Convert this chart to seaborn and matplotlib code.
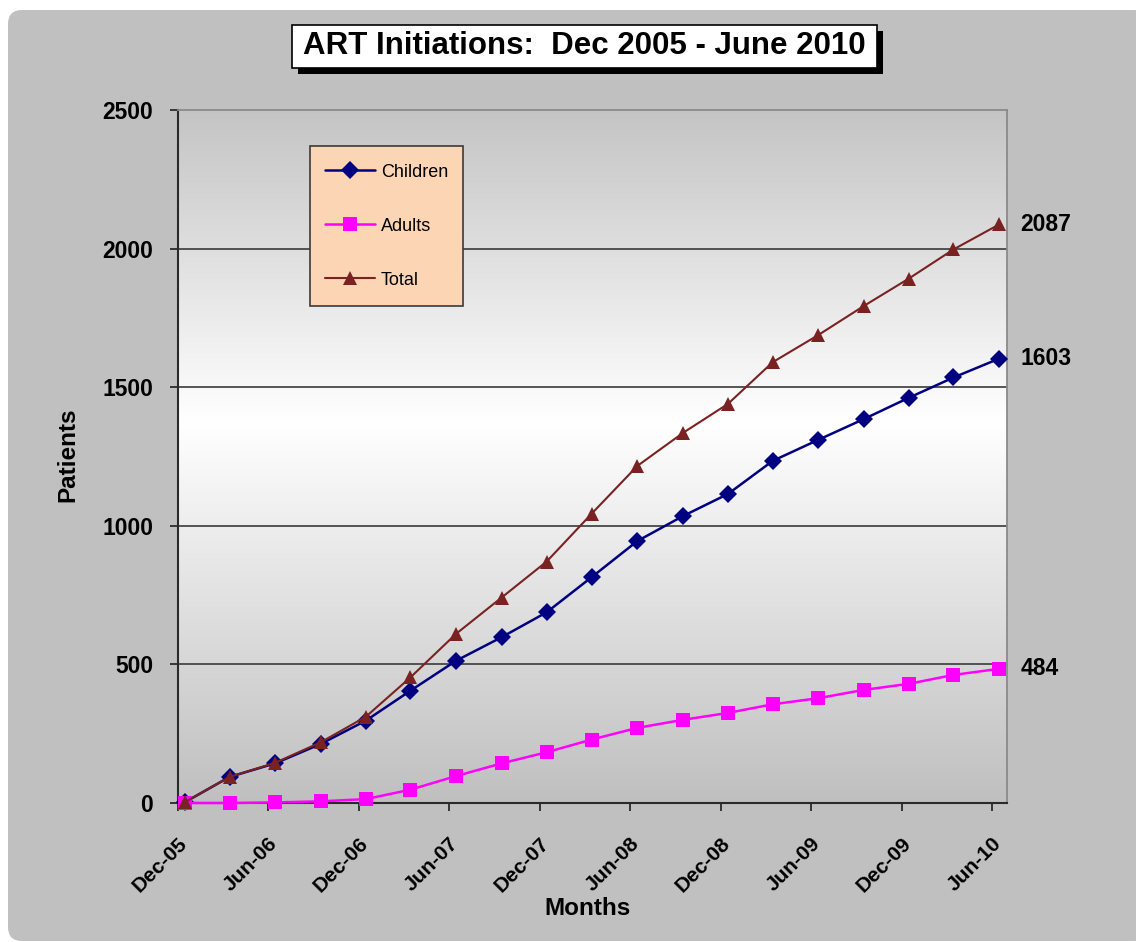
import numpy as np
import pandas as pd
import matplotlib
matplotlib.use('Agg')
import matplotlib.pyplot as plt
import matplotlib.dates as mdates
import matplotlib.transforms as mtransforms
from matplotlib.patches import FancyBboxPatch, Rectangle
import seaborn as sns

# ---------------- data ----------------
months = ['2005-12', '2006-03', '2006-06', '2006-09', '2006-12', '2007-03', '2007-06',
          '2007-09', '2007-12', '2008-03', '2008-06', '2008-09', '2008-12', '2009-03',
          '2009-06', '2009-09', '2009-12', '2010-03', '2010-06']
children = [3, 94, 143, 213, 297, 405, 513, 598, 688, 815, 945, 1035, 1115, 1234,
            1310, 1385, 1462, 1535, 1603]
adults = [0, 0, 2, 6, 14, 48, 97, 143, 183, 229, 271, 300, 325, 356, 378, 408, 430,
          462, 484]
total = [3, 94, 145, 219, 311, 453, 610, 741, 871, 1044, 1216, 1335, 1440, 1590,
         1688, 1793, 1892, 1997, 2087]
series_names = ['Children', 'Adults', 'Total']
y_ticks = [0, 500, 1000, 1500, 2000, 2500]
title = 'ART Initiations:  Dec 2005 - June 2010'
x_label = 'Months'
y_label = 'Patients'

# ---------------- style ----------------
sns.set_theme(style='white')
plt.rcParams['font.family'] = ['Liberation Sans', 'DejaVu Sans']
for k in ['text.color', 'axes.labelcolor', 'xtick.color', 'ytick.color']:
    plt.rcParams[k] = 'black'

W, H = 1136, 942
fig = plt.figure(figsize=(W / 100, H / 100), dpi=100, facecolor='white')
inch = fig.dpi_scale_trans

# grey rounded panel
panel = FancyBboxPatch((0.08, 0.01), 11.40, 9.31,
                       boxstyle='round,pad=0,rounding_size=0.14',
                       transform=inch, facecolor='#c0c0c0', edgecolor='none', zorder=0)
fig.patches.append(panel)

# title box with shadow
fig.patches.append(Rectangle((2.98, (H - 74) / 100), 5.85, 0.43, transform=inch,
                             facecolor='black', edgecolor='none', zorder=1))
fig.patches.append(Rectangle((2.92, (H - 68) / 100), 5.85, 0.43, transform=inch,
                             facecolor='white', edgecolor='black', linewidth=1.2, zorder=2))
fig.text(2.92 + 5.85 / 2, (H - 46) / 100, title, transform=inch, ha='center', va='center',
         fontsize=22.5, fontweight='bold', color='black', zorder=3)

rect = [178 / W, (H - 803) / H, 829 / W, 693 / H]

# gradient background of plot area
bg = fig.add_axes(rect, zorder=0.5)
t = np.linspace(0, 1, 512)
g = np.interp(t, [0.0, 0.55, 1.0], [0.75, 1.0, 0.77])
img = np.repeat(g[:, None, None], 3, axis=2)
bg.imshow(img, origin='lower', aspect='auto', extent=[0, 1, 0, 1])
bg.set_axis_off()

ax = fig.add_axes(rect, zorder=1)
ax.set_facecolor('none')

dates = pd.to_datetime(months) + pd.Timedelta(days=14)
df = pd.DataFrame({'date': dates, 'Children': children, 'Adults': adults, 'Total': total})

styles = {
    'Children': dict(color='#000080', marker='D', markersize=9, linewidth=1.8),
    'Adults': dict(color='#FF00FF', marker='s', markersize=10, linewidth=1.8),
    'Total': dict(color='#7A2222', marker='^', markersize=10.5, linewidth=1.5),
}
for name in series_names:
    sns.lineplot(data=df, x='date', y=name, ax=ax, label=name, markeredgewidth=0,
                 clip_on=False, zorder=5, **styles[name])

# end value labels
for name in series_names:
    v = df[name].iloc[-1]
    ax.annotate(str(v), xy=(df['date'].iloc[-1], v), xytext=(15.5, 0),
                textcoords='offset points', ha='left', va='center',
                fontsize=16.5, fontweight='bold', color='black')

# axes
ax.set_ylim(y_ticks[0], y_ticks[-1])
ax.set_yticks(y_ticks)
ax.set_xlim(pd.Timestamp('2005-12-01'), pd.Timestamp('2010-07-01'))
xt = pd.date_range('2005-12-01', '2010-06-01', freq='6MS')
ax.set_xticks(xt)
ax.xaxis.set_major_formatter(mdates.DateFormatter('%b-%y'))

for v in y_ticks[1:-1]:
    ax.axhline(v, color='#3a3a3a', linewidth=1.2, zorder=2)

for s in ['left', 'bottom']:
    ax.spines[s].set_color('#2a2a2a')
    ax.spines[s].set_linewidth(1.5)
for s in ['top', 'right']:
    ax.spines[s].set_color('#8a8a8a')
    ax.spines[s].set_linewidth(1.3)

ax.tick_params(axis='both', which='major', direction='out', bottom=True, left=True,
               length=6, width=1.3, color='#2a2a2a')
ax.tick_params(axis='y', pad=12, labelsize=16.5)
ax.tick_params(axis='x', pad=21, labelsize=15)
for lab in ax.get_yticklabels():
    lab.set_fontweight('bold')
shift = mtransforms.ScaledTranslation(6 / 100, 0, fig.dpi_scale_trans)
for lab in ax.get_xticklabels():
    lab.set_fontweight('bold')
    lab.set_rotation(45)
    lab.set_ha('right')
    lab.set_va('center')
    lab.set_rotation_mode('anchor')
    lab.set_transform(lab.get_transform() + shift)

ax.set_xlabel(x_label, fontsize=17.5, fontweight='bold')
ax.set_ylabel(y_label, fontsize=17.5, fontweight='bold')
ax.xaxis.label.set_va('center')
ax.yaxis.label.set_va('center')
ax.xaxis.set_label_coords(0.494, -0.152)
ax.yaxis.set_label_coords(-0.133, 0.502)

# legend
lx0, ly0, lw, lh = 0.159, 0.717, 0.185, 0.231
ax.add_patch(Rectangle((lx0, ly0), lw, lh, transform=ax.transAxes, facecolor='#FCD5B5',
                       edgecolor='#3a3a3a', linewidth=1.2, zorder=8))
leg = ax.legend(loc='center', bbox_to_anchor=(lx0 + lw / 2, ly0 + lh / 2), frameon=False,
                fontsize=13, labelspacing=2.05, handlelength=2.8, handletextpad=0.3,
                borderpad=0, numpoints=1)
leg.set_zorder(9)

fig.savefig('out.png', dpi=100, facecolor='white')
